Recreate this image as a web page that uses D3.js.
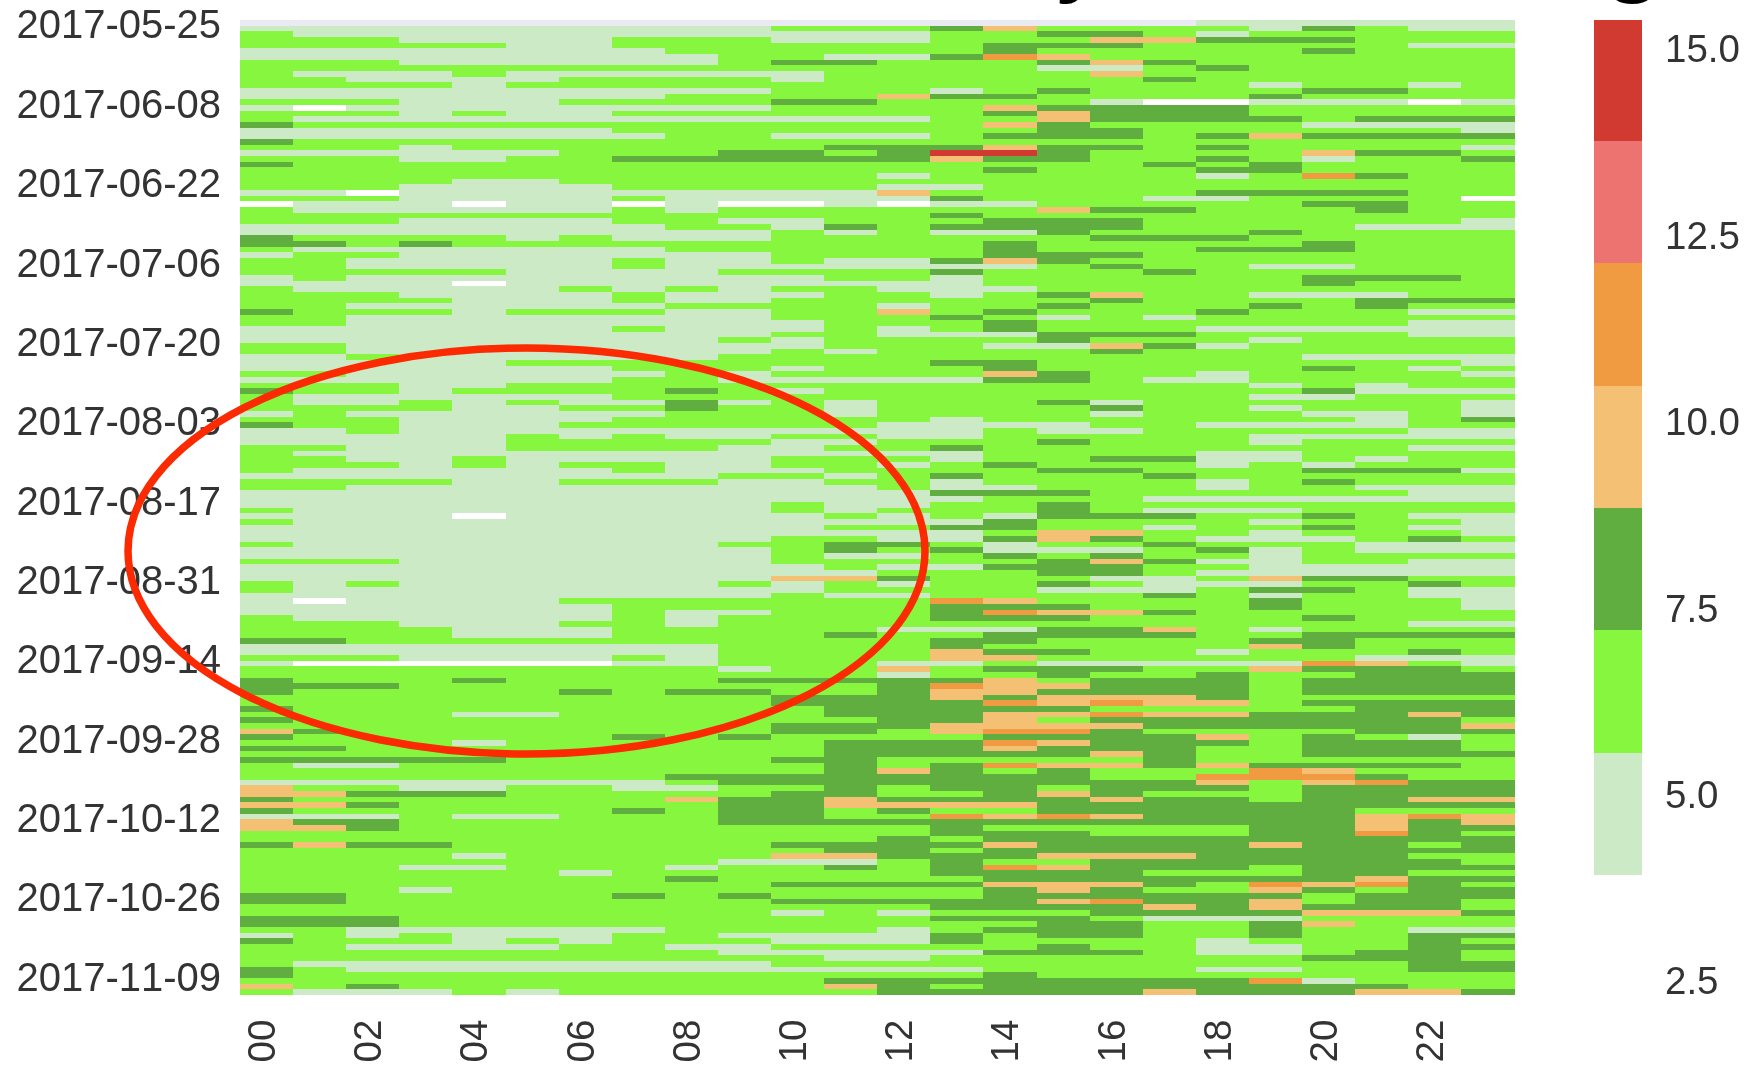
<!DOCTYPE html>
<html>
<head>
<meta charset="utf-8">
<script src="https://cdn.jsdelivr.net/npm/d3@7"></script>
<style>
    html, body { margin: 0; padding: 0; background: #fff; }
    svg { display: block; filter: blur(0.7px); }
    text { font-family: "Liberation Sans", Arial, sans-serif; font-kerning: none; }
    .axis text { fill: #333; font-size: 38.5px; }
    .axis.days text { font-size: 40px; }
    .axis path, .axis line { display: none; }
</style>
</head>
<body>
<div id="chart"></div>
<script>

// hours of the day, x axis
var hours = ["00","01","02","03","04","05","06","07","08","09","10","11","12","13","14","15","16","17","18","19","20","21","22","23"];
var hourTicks = ["00","02","04","06","08","10","12","14","16","18","20","22"];

var dateTicks = ["2017-05-25","2017-06-08","2017-06-22","2017-07-06","2017-07-20","2017-08-03","2017-08-17","2017-08-31","2017-09-14","2017-09-28","2017-10-12","2017-10-26","2017-11-09"];

// colorbar
var bandEdges = [3.91, 5.55, 7.19, 8.83, 10.47, 12.11, 13.75, 15.38];
var bandColors = ["#cdeac7", "#86f63f", "#60ae40", "#f4c174", "#f09a41", "#ec7370", "#d13a30"];
var colorbarTicks = [15, 12.5, 10, 7.5, 5, 2.5];

// one value per code used in the rows below, estimated from the color bands
// "." is no data, 0 is under the colorbar (drawn white)
var codeValues = [3.0, 4.7, 6.4, 8.0, 9.6, 11.3, 12.9, 14.6];

// one string per day, one code per hour
var rows = [
"..................111111",
"111111111122234222213211",
"211111111111122332122222",
"222111122211122244333222",
"222221122222223332222211",
"111111112222223222223222",
"111111111221135422222222",
"222111111233222343222222",
"222222222222222112322222",
"211121111112222242222222",
"221111222212222223222222",
"222212222222222222212212",
"111111111122212322223322",
"111111112222433222232222",
"222111222233222210011101",
"101111111122224333322222",
"222121122222223433322222",
"211111111111122433332333",
"322222222222224322221111",
"111111122222222332222221",
"111111112211123332343333",
"322222222222222222222222",
"222122222223334332322221",
"111111222332377322224332",
"222112233333343322321223",
"322222222222222223232222",
"222222222222223222332222",
"222222222222122222125322",
"222211222222222222222222",
"222111122222112222222222",
"110111111111422222333322",
"222111121111132221122220",
"011101101001011222223322",
"211111121222222433222322",
"222222222222232222222222",
"222111122112223332222221",
"111111112213233332222111",
"111111111121211322232222",
"322221211122222233322222",
"332322222222223222223222",
"211111112222223222333222",
"122111111122223332222222",
"221111121121134322222222",
"221111121111111232211222",
"222221111222232223222222",
"121111111112212222223332",
"111101111111112222223222",
"211111212122111222222222",
"222111121112212342211122",
"222211121122222232222333",
"221111112222122322232322",
"322212221122423222322211",
"221111111122232121222222",
"221111111112223222222211",
"111111121112123222111111",
"111111111122111333222211",
"111111111212222322212222",
"221111111112221143122222",
"221111111121222232222222",
"112111111222222222221111",
"111112222222233222222221",
"111111122212223222223212",
"221111112122224322122221",
"111111122111113321122222",
"222112222222222222212122",
"322122223212222222223111",
"211111122222222222211222",
"211212113121222312222221",
"222211223221222232212221",
"121111112221222212221121",
"222111122222212222222123",
"322111222222111122111122",
"112111111111112112222211",
"111112121122112222211111",
"111112222211222322212222",
"221112222112232222222211",
"211111111111112222112222",
"221121111122212233112122",
"222121221122123222121222",
"211111121112222332223331",
"111111111221232223222222",
"222211222112212222123222",
"221111111111211222122111",
"111111111111133322222211",
"111111111111112221111111",
"111111111121122322222222",
"211111111121222321112222",
"111101111112121333223211",
"211111111111113222212221",
"111111111112233221223211",
"111111111111112442212221",
"111111111122113432111232",
"211111111223321223222111",
"111111111123231112312111",
"111111111121123232212222",
"222111111122222343112211",
"111111111112113332211111",
"111111111111222332111111",
"111111111144322211243322",
"212111111212122321112232",
"211111111112222111233211",
"111111111121122223212211",
"101111222222254222232221",
"111111122222233322232221",
"111111121122235443222222",
"211111121222233322223222",
"222111221222222222222211",
"222211122222111334212222",
"222211122223223333223333",
"332222222222233222233222",
"111111111222232222243222",
"111111111222243322122232",
"222111121222244222222111",
"100000011222112111115421",
"222222222122423332243332",
"222222222222122322322333",
"322232222333334233323333",
"333222222222354433323333",
"322222323322344333323333",
"222222222233343444322222",
"222222222233335454423333",
"322222222223333322222333",
"222211222223334454433343",
"322222222222334233333332",
"222222222233344443333334",
"432222222233245532222333",
"322222232322223333423212",
"222212222223335433323332",
"332222222223334333223332",
"222222222223333343223333",
"333332222233222223222222",
"211222222223235443433332",
"222222222223432322254222",
"222222223333333322555322",
"111111112333333333424533",
"422112211223233233323333",
"443332222233223432223333",
"322222224334333343323344",
"443222222334444333333333",
"322222232332322333333222",
"111211222332254543333454",
"433222222333333333333434",
"443222222222232222233433",
"222222222222233322233532",
"222222222222323333333333",
"343322222233334333343323",
"222222222223323333333333",
"222212222244333444333322",
"222222222111232233333332",
"222112221223235433323333",
"222222122222233332223322",
"222222223222223333333433",
"222222222233334443254532",
"222122222222223432243233",
"332222232322223333332333",
"332222222233333453342332",
"222222222222233334343332",
"222222222212122233334443",
"333222222222233321112222",
"333222222222222332234222",
"221111112222123332232211",
"121211122111132332232233",
"322212122211132222122232",
"221111221122222322112233",
"222222222111113332112332",
"222222222221122222223332",
"211111111122222222222233",
"321111111111112222112233",
"322222222222223222222222",
"222222222223333333351222",
"423222222224323333333322",
"211121222222333334333443"
];

var width = 1748;
var height = 1065;

var svg = d3.select("#chart")
    .append("svg")
    .attr("width", width)
    .attr("height", height);

var parseDay = d3.utcParse("%Y-%m-%d");
var formatDay = d3.utcFormat("%Y-%m-%d");
var days = rows.map(function (d, i) {
    return formatDay(d3.utcDay.offset(parseDay(dateTicks[0]), i));
});

var xScale = d3.scaleBand().domain(hours).range([240, 1514.5]);
var yScale = d3.scaleBand().domain(days).range([20, 995]);
var fillScale = d3.scaleThreshold().domain(bandEdges.slice(1, -1)).range(bandColors);

// flatten the strings into cells
var cells = [];
rows.forEach(function (row, i) {
    row.split("").forEach(function (code, j) {
        cells.push({
            day: days[i],
            hour: hours[j],
            value: code === "." ? null : codeValues[+code]
        });
    });
});

/* HEATMAP */
svg.append("g")
    .selectAll("rect")
    .data(cells)
    .join("rect")
    .attr("x", function (d) { return xScale(d.hour); })
    .attr("y", function (d) { return yScale(d.day); })
    .attr("width", xScale.bandwidth())
    .attr("height", yScale.bandwidth())
    .attr("shape-rendering", "crispEdges")
    .attr("fill", function (d) {
        if (d.value === null) return "#eaeaf2";
        if (d.value < bandEdges[0]) return "#ffffff";
        return fillScale(d.value);
    });

/* AXES */
svg.append("g")
    .attr("class", "axis days")
    .attr("transform", "translate(240,0)")
    .call(d3.axisLeft(yScale).tickValues(dateTicks).tickSize(0).tickPadding(19))
    .selectAll("text")
    .attr("dy", ".39em");

svg.append("g")
    .attr("class", "axis")
    .attr("transform", "translate(0,995)")
    .call(d3.axisBottom(xScale).tickValues(hourTicks).tickSize(0))
    .selectAll("text")
    .attr("x", 0)
    .attr("y", 0)
    .attr("dy", ".35em")
    .attr("transform", "translate(-5,46) rotate(-90)")
    .style("text-anchor", "middle");

/* COLORBAR */
var barScale = d3.scaleLinear().domain([15, 2.5]).range([48, 980]);

svg.append("g")
    .selectAll("rect")
    .data(bandColors)
    .join("rect")
    .attr("x", 1594)
    .attr("width", 48)
    .attr("y", function (d, i) { return barScale(bandEdges[i + 1]); })
    .attr("height", function (d, i) { return barScale(bandEdges[i]) - barScale(bandEdges[i + 1]); })
    .attr("shape-rendering", "crispEdges")
    .attr("fill", function (d) { return d; });

svg.append("g")
    .attr("class", "axis")
    .attr("transform", "translate(1642,0)")
    .call(d3.axisRight(barScale).tickValues(colorbarTicks).tickSize(0).tickPadding(23).tickFormat(d3.format(".1f")))
    .selectAll("text")
    .attr("dy", ".36em");

/* hand drawn circle around the pale area */
svg.append("ellipse")
    .attr("cx", 526.5)
    .attr("cy", 551)
    .attr("rx", 398.5)
    .attr("ry", 203)
    .attr("fill", "none")
    .attr("stroke", "#fb2a00")
    .attr("stroke-width", 7.5);

/* what is left of the cropped title */
svg.append("text")
    .attr("x", 1056)
    .attr("y", -19)
    .attr("font-size", 112)
    .attr("fill", "#000")
    .text("y");

svg.append("text")
    .attr("x", 1602)
    .attr("y", -19)
    .attr("font-size", 112)
    .attr("fill", "#000")
    .text("g");

</script>
</body>
</html>
